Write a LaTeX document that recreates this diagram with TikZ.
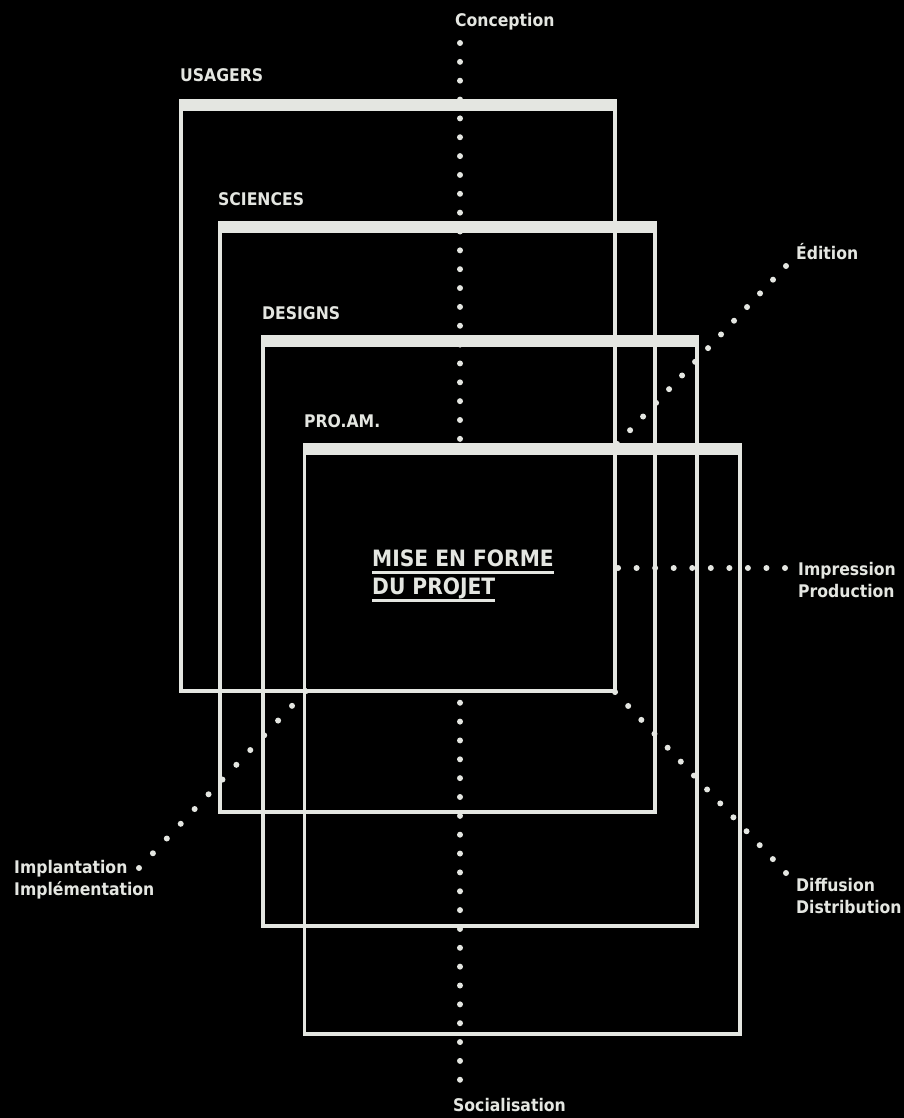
\documentclass[tikz,border=0pt]{standalone}
\usepackage{fontspec}
\setmainfont{DejaVu Sans Condensed}
\definecolor{craie}{RGB}{228,230,225}
\newsavebox\boiteligne
\newcommand\souligne[1]{\sbox\boiteligne{#1}\rlap{\rule[-8pt]{\wd\boiteligne}{3.2pt}}\usebox\boiteligne}
\tikzset{
  pointille/.style={draw=craie, line width=6, line cap=round, dash pattern=on 0pt off #1},
  cadre/.style={draw=craie, line width=3.5},
  barre/.style={fill=craie},
  etiquette/.style={text=craie, font=\bfseries\fontsize{17.4}{22}\selectfont, inner sep=0, anchor=base west, align=left}
}
\begin{document}
\begin{tikzpicture}[x=1pt,y=-1pt]
\fill[black] (0,0) rectangle (904,1118);
\useasboundingbox (0,0) rectangle (904,1118);
% ends of the dotted axes
\coordinate (haut) at (460,43);
\coordinate (bas) at (460,1080);
\coordinate (ne) at (786,266);
\coordinate (ne-c) at (617,444);
\coordinate (so) at (139,868);
\coordinate (so-c) at (306,691);
\coordinate (se) at (786,873);
\coordinate (se-c) at (615,692);
\coordinate (est) at (785,568);
\coordinate (est-c) at (618,568);
\draw[pointille=18.85pt] (haut) -- (bas);
\draw[pointille=18.87pt] (ne) -- (ne-c);
\draw[pointille=20.27pt] (so) -- (so-c);
\draw[pointille=19.15pt] (se) -- (se-c);
\draw[pointille=18.55pt] (est) -- (est-c);
% common part of the four frames
\fill[black] (306.5,455) rectangle (613.2,689.2);
% frames
\draw[cadre] (181,105) rectangle (615,691);
\fill[barre] (179.25,99) rectangle (616.75,111);
\draw[cadre] (220,227) rectangle (655,812);
\fill[barre] (218.25,221) rectangle (656.75,233);
\draw[cadre] (263,341) rectangle (697,926);
\fill[barre] (261.25,335) rectangle (698.75,347);
\draw[cadre] (304.5,449) rectangle (740,1034);
\fill[barre] (302.75,443) rectangle (741.75,455);
% labels (base = last line)
\node[etiquette] (usagers) at (180,82) {USAGERS};
\node[etiquette] (sciences) at (218,205) {SCIENCES};
\node[etiquette] (designs) at (262,319) {DESIGNS};
\node[etiquette] (proam) at (304,427) {PRO.AM.};
\node[etiquette] (conception) at (455,27) {Conception};
\node[etiquette] (socialisation) at (453,1111) {Socialisation};
\node[etiquette] (edition) at (796,259) {Édition};
\node[etiquette] (impression) at (798,597) {Impression\\Production};
\node[etiquette] (implantation) at (14,895) {Implantation\\Implémentation};
\node[etiquette] (diffusion) at (796,913) {Diffusion\\Distribution};
\node[etiquette, font=\bfseries\fontsize{22.5}{28}\selectfont] (mise) at (372,594)
  {\souligne{MISE EN FORME}\\\souligne{DU PROJET}};
\end{tikzpicture}
\end{document}
